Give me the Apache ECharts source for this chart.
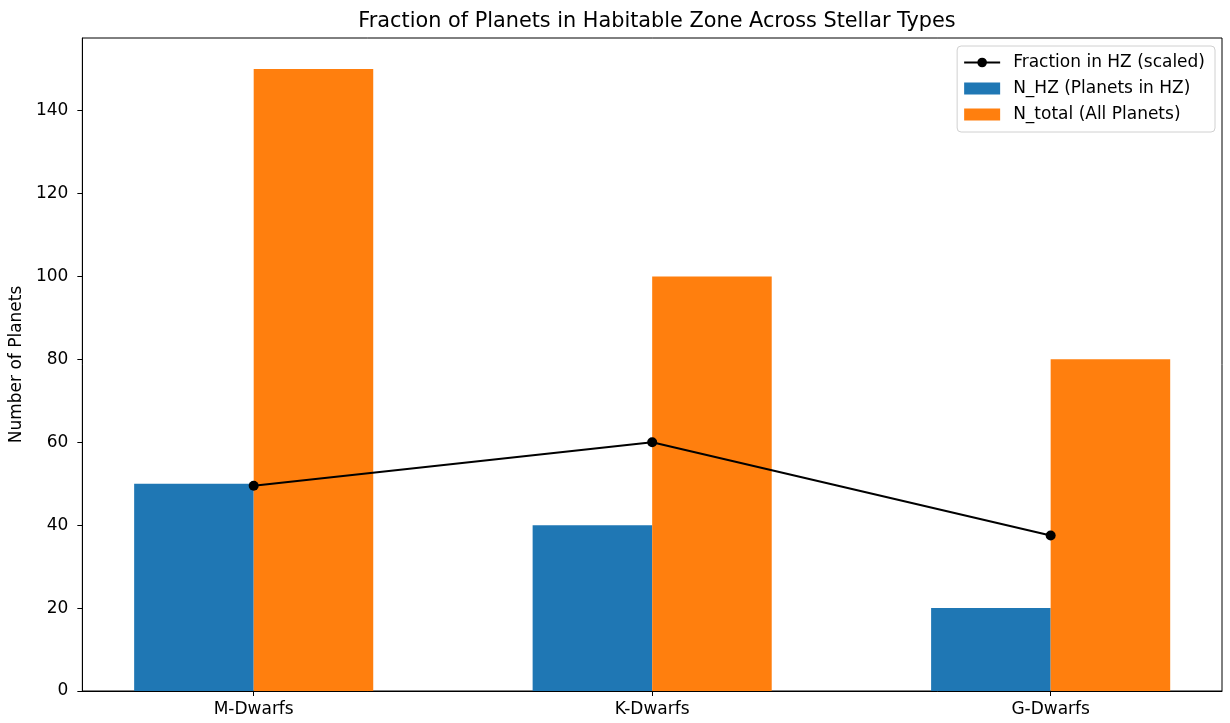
<!DOCTYPE html>
<html>
<head>
<meta charset="utf-8">
<script src="https://cdn.jsdelivr.net/npm/echarts@6/dist/echarts.min.js"></script>
<style>html,body{margin:0;padding:0;background:#fff}#c{width:1230px;height:723px}</style>
</head>
<body>
<div id="c"></div>
<script>
const categories = ['M-Dwarfs', 'K-Dwarfs', 'G-Dwarfs'];
const nHZ = [50, 40, 20];
const nTotal = [150, 100, 80];
const fractionScaled = [49.5, 60, 37.5];
const yTicks = [0, 20, 40, 60, 80, 100, 120, 140];

const F = 'DejaVu Sans';
const FS = 17;
const pos = categories.map((c, i) => i);
const chart = echarts.init(document.getElementById('c'));
chart.setOption({
  animation: false,
  backgroundColor: '#fff',
  textStyle: {fontFamily: F},
  title: {
    text: 'Fraction of Planets in Habitable Zone Across Stellar Types',
    left: 652, textAlign: 'center', top: 6,
    textStyle: {fontFamily: F, fontSize: 20.8, fontWeight: 'normal', color: '#000'}
  },
  grid: {left: 82, right: 8, top: 38, bottom: 32, show: true, borderColor: '#000', borderWidth: 1, backgroundColor: 'transparent'},
  legend: {
    orient: 'vertical', right: 15, top: 46, align: 'left',
    itemWidth: 36, itemHeight: 12, itemGap: 9,
    padding: [8, 10, 9, 6],
    backgroundColor: 'rgba(255,255,255,0.8)', borderColor: '#d0d0d0', borderWidth: 1, borderRadius: 4,
    textStyle: {fontFamily: F, fontSize: FS, color: '#000', padding: [0, 0, 0, 8]},
    data: [
      {name: 'Fraction in HZ (scaled)'},
      {name: 'N_HZ (Planets in HZ)', icon: 'rect'},
      {name: 'N_total (All Planets)', icon: 'rect'}
    ]
  },
  xAxis: {
    type: 'value', min: -0.43, max: 2.43,
    axisLine: {show: true, onZero: false, lineStyle: {color: '#000'}},
    axisTick: {show: true, length: 5, lineStyle: {color: '#000'}, customValues: pos},
    axisLabel: {customValues: pos, formatter: v => categories[Math.round(v)], fontFamily: F, fontSize: FS, color: '#000', margin: 10},
    splitLine: {show: false}
  },
  yAxis: {
    type: 'value', min: 0, max: 157.5,
    name: 'Number of Planets', nameLocation: 'middle', nameGap: 56,
    nameTextStyle: {fontFamily: F, fontSize: FS, color: '#000'},
    axisLine: {show: true, onZero: false, lineStyle: {color: '#000'}},
    axisTick: {show: true, length: 5, lineStyle: {color: '#000'}, customValues: yTicks},
    axisLabel: {customValues: yTicks, fontFamily: F, fontSize: FS, color: '#000', margin: 14},
    splitLine: {show: false}
  },
  series: [
    {
      name: 'N_HZ (Planets in HZ)', type: 'bar', barWidth: '30%', barGap: '0%',
      itemStyle: {color: '#1f77b4'},
      data: pos.map(i => [i, nHZ[i]]), z: 2
    },
    {
      name: 'N_total (All Planets)', type: 'bar', barWidth: '30%', barGap: '0%',
      itemStyle: {color: '#ff7f0e'},
      data: pos.map(i => [i, nTotal[i]]), z: 2
    },
    {
      name: 'Fraction in HZ (scaled)', type: 'line',
      symbol: 'circle', symbolSize: 10,
      lineStyle: {color: '#000', width: 2}, itemStyle: {color: '#000'},
      data: pos.map(i => [i, fractionScaled[i]]), z: 5
    }
  ]
});
</script>
</body>
</html>
